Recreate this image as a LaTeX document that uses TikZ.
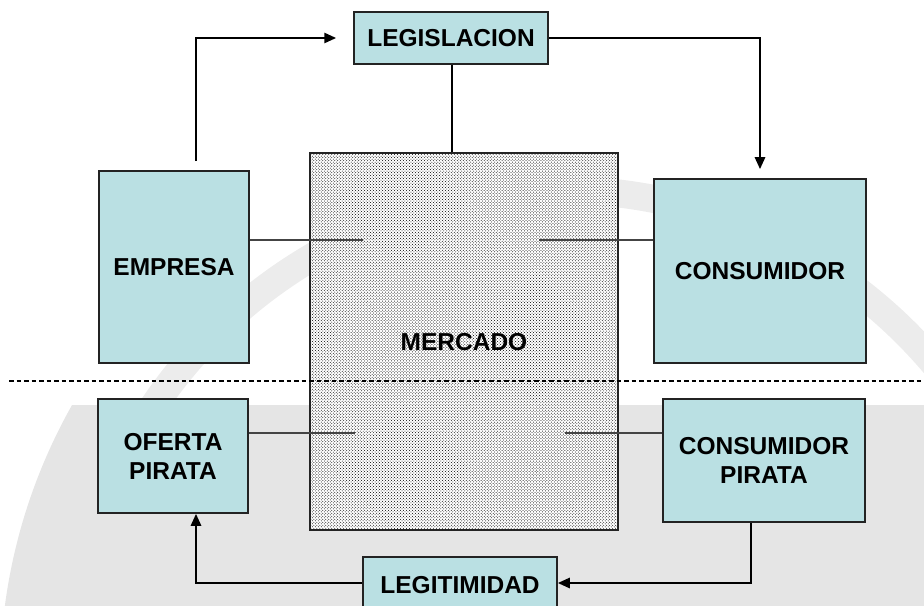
\documentclass[tikz,border=0pt]{standalone}
\usepackage{fontspec}
\setmainfont{Liberation Sans}
\usepackage{xcolor}
\usepackage{tikz}
\usetikzlibrary{arrows.meta, positioning, calc, patterns}
\definecolor{boxcyan}{RGB}{186,224,227}
\definecolor{edgegray}{RGB}{35,35,35}
\tikzstyle{actor} = [rectangle, draw=edgegray, line width=1.5bp, fill=boxcyan, text centered, align=center, inner sep=0pt, font=\bfseries\fontsize{24.5bp}{29bp}\selectfont]
\tikzstyle{market} = [rectangle, draw=edgegray, line width=1.5bp, preaction={fill=white}, pattern=crosshatch dots, pattern color=black, text centered, inner sep=0pt, font=\bfseries\fontsize{24.5bp}{29bp}\selectfont]
\tikzstyle{arrow} = [line width=2.6bp, draw=black, -{Triangle[length=12bp,width=10bp]}]
\tikzstyle{link} = [line width=1.5bp, draw=edgegray!85]

\begin{document}
\begin{tikzpicture}[x=1bp, y=-1bp]
    \useasboundingbox (0,0) rectangle (924,606);
    \clip (0,0) rectangle (924,606);

    % Watermark (seal in the background)
    \draw [gray!15, line width=28bp] (560,680) circle [radius=490];
    \begin{scope}
        \clip (560,680) circle [radius=560];
        \fill [gray!20] (0,405) rectangle (924,606);
    \end{scope}

    % Market in the middle
    \node (mercado) [market, minimum width=308bp, minimum height=377bp] at (464,341.5) {};
    \node (mercadotxt) [font=\bfseries\fontsize{24.5bp}{29bp}\selectfont, inner sep=0pt] at (464,342) {MERCADO};

    % Legal side
    \node (legis) [actor, minimum width=194bp, minimum height=52bp] at (451,38) {LEGISLACION};
    \node (empresa) [actor, minimum width=150bp, minimum height=192bp] at (174,267) {EMPRESA};
    \node (consumidor) [actor, minimum width=212bp, minimum height=184bp] at (760,271) {CONSUMIDOR};

    % Pirate side
    \node (oferta) [actor, minimum width=150bp, minimum height=114bp] at (173,456) {OFERTA\\PIRATA};
    \node (conpir) [actor, minimum width=202bp, minimum height=123bp] at (764,460.5) {CONSUMIDOR\\PIRATA};
    \node (legit) [actor, minimum width=194bp, minimum height=56bp] at (460,585) {LEGITIMIDAD};

    % Ends of the links inside the market
    \coordinate (inE) at (363,240);
    \coordinate (inC) at (539,240);
    \coordinate (inO) at (355,433);
    \coordinate (inP) at (565,433);

    % Links
    \draw [link] (empresa.east |- inE) -- (inE);
    \draw [link] (inC) -- (consumidor.west |- inC);
    \draw [link] (oferta.east |- inO) -- (inO);
    \draw [link] (inP) -- (conpir.west |- inP);
    \draw [line width=2.4bp] (legis.south -| 452,0) -- (mercado.north -| 452,0);

    % Arrows
    \draw [arrow, shorten <=9bp, shorten >=17bp] ([xshift=22bp]empresa.north) |- (legis.west);
    \draw [arrow, shorten >=9bp] (legis.east) -| (consumidor.north);
    \draw [arrow] ([xshift=-13bp]conpir.south) |- ([yshift=2bp]legit.east);
    \draw [arrow] ([yshift=2bp]legit.west) -| ([xshift=23bp]oferta.south);

    % Border between legal and pirate market
    \draw [line width=2.2bp, dash pattern=on 4.5bp off 3bp] (9,381) -- (924,381);
\end{tikzpicture}
\end{document}
